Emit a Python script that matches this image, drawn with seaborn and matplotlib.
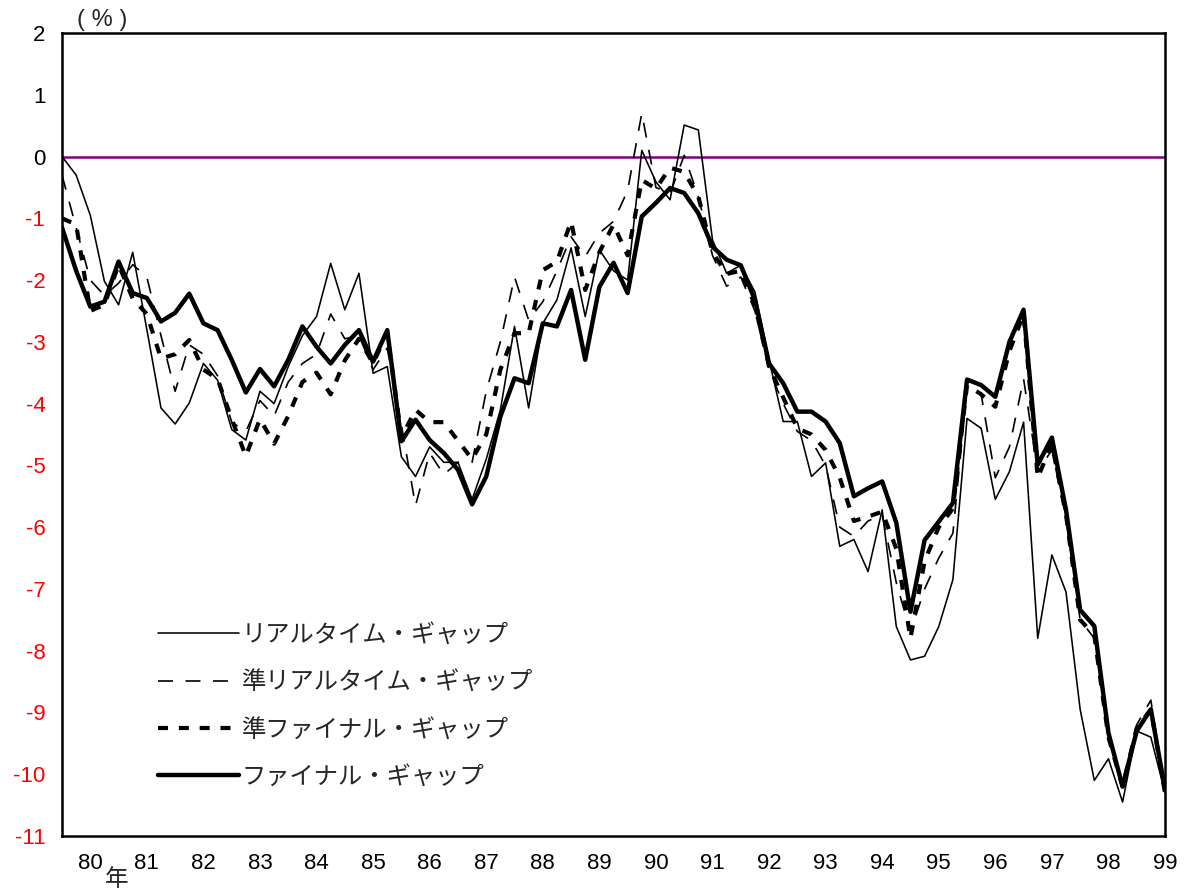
import numpy as np
import pandas as pd
import matplotlib
matplotlib.use("Agg")
import matplotlib.pyplot as plt
import seaborn as sns

# Quarterly output-gap estimates, 1979Q3 - 1999Q1 (%)
quarters = pd.period_range("1979Q3", "1999Q1", freq="Q")

realtime = [
    0.00, -0.30, -0.95, -2.02, -2.40, -1.55, -2.80, -4.07, -4.33, -3.99,
    -3.35, -3.62, -4.42, -4.59, -3.80, -4.00, -3.40, -2.90, -2.59, -1.73,
    -2.48, -1.89, -3.51, -3.40, -4.86, -5.18, -4.70, -4.95, -4.95, -5.55,
    -4.90, -4.10, -2.75, -4.07, -2.70, -2.32, -1.48, -2.59, -1.51, -1.85,
    -2.00, 0.10, -0.41, -0.70, 0.51, 0.43, -1.35, -1.89, -1.76, -2.19,
    -3.29, -4.29, -4.29, -5.18, -4.96, -6.31, -6.20, -6.72, -5.72, -7.61,
    -8.15, -8.09, -7.61, -6.85, -4.24, -4.40, -5.55, -5.10, -4.30, -7.80,
    -6.45, -7.05, -8.95, -10.10, -9.75, -10.45, -9.30, -9.40, -10.30,
]

semi_realtime = [
    -0.30, -1.15, -2.00, -2.25, -2.05, -1.75, -1.95, -2.90, -3.80, -3.05,
    -3.20, -3.55, -4.30, -4.45, -3.95, -4.20, -3.65, -3.35, -3.20, -2.55,
    -2.95, -2.90, -3.45, -3.10, -4.35, -5.65, -4.80, -5.15, -4.95, -4.95,
    -3.80, -3.00, -1.95, -2.65, -2.35, -1.85, -1.30, -1.62, -1.24, -1.05,
    -0.55, 0.70, -0.50, -0.60, 0.02, -0.65, -1.60, -2.10, -1.95, -2.50,
    -3.45, -4.00, -4.45, -4.60, -5.00, -6.00, -6.15, -5.90, -5.80, -6.90,
    -7.70, -7.00, -6.50, -6.10, -3.75, -3.85, -5.20, -4.70, -3.60, -5.10,
    -4.75, -5.85, -7.50, -7.80, -9.30, -10.20, -9.20, -8.80, -10.30,
]

semi_final = [
    -1.00, -1.10, -2.50, -2.40, -1.75, -2.30, -2.55, -3.27, -3.20, -2.97,
    -3.45, -3.60, -4.25, -4.85, -4.25, -4.65, -4.20, -3.65, -3.50, -3.85,
    -3.30, -2.95, -3.35, -2.85, -4.55, -4.10, -4.30, -4.30, -4.60, -4.90,
    -4.50, -3.45, -2.86, -2.86, -1.84, -1.70, -1.05, -2.16, -1.55, -1.10,
    -1.60, -0.38, -0.52, -0.18, -0.25, -0.65, -1.55, -1.90, -1.85, -2.40,
    -3.40, -3.90, -4.40, -4.50, -4.75, -5.20, -5.90, -5.83, -5.75, -6.35,
    -7.80, -6.55, -6.00, -5.70, -3.70, -3.85, -4.05, -3.15, -2.55, -5.20,
    -4.65, -5.80, -7.50, -7.75, -9.40, -10.20, -9.25, -8.95, -10.30,
]

final = [
    -1.15, -1.85, -2.43, -2.35, -1.70, -2.21, -2.29, -2.67, -2.53, -2.22,
    -2.70, -2.81, -3.29, -3.82, -3.44, -3.72, -3.29, -2.75, -3.08, -3.35,
    -3.05, -2.81, -3.32, -2.81, -4.61, -4.26, -4.59, -4.80, -5.07, -5.63,
    -5.18, -4.21, -3.59, -3.67, -2.70, -2.75, -2.16, -3.29, -2.11, -1.72,
    -2.21, -0.97, -0.75, -0.51, -0.59, -0.92, -1.46, -1.67, -1.76, -2.32,
    -3.35, -3.67, -4.13, -4.13, -4.29, -4.64, -5.50, -5.37, -5.26, -5.93,
    -7.37, -6.21, -5.91, -5.61, -3.61, -3.70, -3.89, -3.00, -2.48, -4.99,
    -4.55, -5.72, -7.34, -7.60, -9.33, -10.20, -9.30, -8.95, -10.25,
]

series_names = [
    "リアルタイム・ギャップ",
    "準リアルタイム・ギャップ",
    "準ファイナル・ギャップ",
    "ファイナル・ギャップ",
]

sns.set_style("white")
plt.rcParams["font.family"] = ["Liberation Sans", "Noto Sans CJK JP"]

fig = plt.figure(figsize=(11.88, 8.90), dpi=100)
ax = fig.add_axes([62 / 1188, 1 - 836 / 890, (1165 - 62) / 1188, (836 - 33) / 890])

x = np.arange(len(quarters))
df = pd.DataFrame({
    "x": x,
    series_names[0]: realtime,
    series_names[1]: semi_realtime,
    series_names[2]: semi_final,
    series_names[3]: final,
})

styles = {
    series_names[0]: dict(lw=1.15, ls="-"),
    series_names[1]: dict(lw=1.2, ls=(0, (9.0, 7.5))),
    series_names[2]: dict(lw=3.0, ls=(0, (2.4, 2.6))),
    series_names[3]: dict(lw=3.2, ls="-"),
}

# zero reference line
ax.axhline(0, color="#800080", lw=1.8, zorder=1)

for name in series_names:
    st = styles[name]
    sns.lineplot(data=df, x="x", y=name, ax=ax, color="black",
                 linewidth=st["lw"], linestyle=st["ls"], label=name,
                 zorder=3)

ax.set_xlim(0, len(quarters) - 1)
ax.set_ylim(-11, 2)
ax.set_xlabel("")
ax.set_ylabel("")

# x axis: ticks every half year, year labels at Q1
tick_list = list(np.arange(0, len(quarters), 2))
ax.set_xticks(tick_list)
labels = [""] * len(tick_list)
for i, q in enumerate(quarters):
    if q.quarter == 1:
        labels[tick_list.index(i)] = f"{q.year % 100:02d}"
ax.set_xticklabels(labels)

yt = np.arange(-11, 3, 1)
ax.set_yticks(yt)
ax.set_yticklabels([str(v) for v in yt])

ax.tick_params(axis="both", direction="in", length=7, width=1.5,
               labelsize=16, colors="black")
ax.tick_params(axis="x", pad=12)
ax.tick_params(axis="y", pad=12)
for lab, v in zip(ax.get_yticklabels(), yt):
    lab.set_color("red" if v < 0 else "black")

for sp in ax.spines.values():
    sp.set_visible(True)
    sp.set_color("black")
    sp.set_linewidth(1.8)

leg = ax.legend(loc="lower left", bbox_to_anchor=(0.0785, 0.047), frameon=False,
                fontsize=17.5, handlelength=3.3, handletextpad=0.12,
                labelspacing=1.0, borderaxespad=0)

fig.text(102 / 1188, 1 - 20 / 890, "( % )", fontsize=17, ha="center", va="center")
fig.text(117 / 1188, 1 - 879 / 890, "年", fontsize=17, ha="center", va="center",
         family=["Noto Sans CJK JP"])

fig.savefig("out.png", dpi=100)
